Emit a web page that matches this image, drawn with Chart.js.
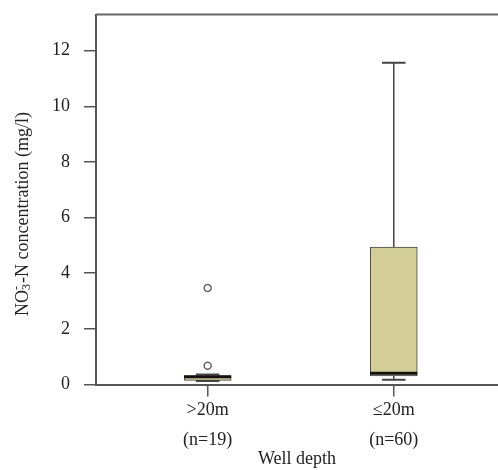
<!DOCTYPE html>
<html>
<head>
<meta charset="utf-8">
<script src="https://cdn.jsdelivr.net/npm/chart.js@4.4.1/dist/chart.umd.min.js"></script>
<style>
  html, body { margin: 0; padding: 0; background: #fff; }
  #wrap { width: 498px; height: 470px; }
</style>
</head>
<body>
<div id="wrap"><canvas id="chart"></canvas></div>
<script>
// Nitrate box plot by well depth
const groups = ['>20m', '≤20m'];
const groupCounts = ['(n=19)', '(n=60)'];
const groupX = [1, 2];
const lowWhisker = [0.13, 0.17];
const q1 = [0.15, 0.31];
const median = [0.28, 0.40];
const q3 = [0.31, 4.94];
const highWhisker = [0.36, 11.57];
const outlierX = [1, 1];
const outlierY = [3.47, 0.67];
const yTicks = [0, 2, 4, 6, 8, 10, 12];

const serif = "'Liberation Serif', 'Times New Roman', serif";
const textColor = '#222';
const axisColor = '#555';
const BOX_WIDTH = 47;

Chart.defaults.font.family = serif;

// Whiskers, medians, top frame line and the y title with sub/superscript
const boxPlotExtras = {
  id: 'boxPlotExtras',
  beforeDatasetsDraw(chart) {
    const { ctx, chartArea, scales: { x, y } } = chart;
    ctx.save();
    ctx.strokeStyle = '#666';
    ctx.lineWidth = 2;
    ctx.beginPath();
    ctx.moveTo(chartArea.left, chartArea.top);
    ctx.lineTo(chartArea.right, chartArea.top);
    ctx.stroke();

    ctx.strokeStyle = '#444';
    groupX.forEach((gx, i) => {
      const px = x.getPixelForValue(gx);
      const capHalf = BOX_WIDTH / 4;
      ctx.lineWidth = 1.5;
      ctx.beginPath();
      ctx.moveTo(px, y.getPixelForValue(q3[i]));
      ctx.lineTo(px, y.getPixelForValue(highWhisker[i]));
      ctx.moveTo(px, y.getPixelForValue(q1[i]));
      ctx.lineTo(px, y.getPixelForValue(lowWhisker[i]));
      ctx.stroke();
      ctx.lineWidth = 2;
      ctx.beginPath();
      ctx.moveTo(px - capHalf, y.getPixelForValue(highWhisker[i]));
      ctx.lineTo(px + capHalf, y.getPixelForValue(highWhisker[i]));
      ctx.moveTo(px - capHalf, y.getPixelForValue(lowWhisker[i]));
      ctx.lineTo(px + capHalf, y.getPixelForValue(lowWhisker[i]));
      ctx.stroke();
    });
    ctx.restore();
  },
  afterDatasetsDraw(chart) {
    const { ctx, scales: { x, y } } = chart;
    ctx.save();
    ctx.strokeStyle = '#111';
    ctx.lineWidth = 3;
    groupX.forEach((gx, i) => {
      const px = x.getPixelForValue(gx);
      const py = y.getPixelForValue(median[i]);
      ctx.beginPath();
      ctx.moveTo(px - BOX_WIDTH / 2, py);
      ctx.lineTo(px + BOX_WIDTH / 2, py);
      ctx.stroke();
    });
    ctx.restore();
  },
  afterDraw(chart) {
    const { ctx } = chart;
    const big = '18px ' + serif;
    const small = '12px ' + serif;
    ctx.save();
    ctx.translate(23, 214);
    ctx.rotate(-Math.PI / 2);
    ctx.fillStyle = textColor;
    ctx.textBaseline = 'middle';
    ctx.textAlign = 'left';
    ctx.font = big;
    const wNO = ctx.measureText('NO').width;
    const wRest = ctx.measureText('-N concentration (mg/l)').width;
    ctx.font = small;
    const wScript = Math.max(ctx.measureText('3').width, ctx.measureText('-').width) + 1;
    let cx = -(wNO + wScript + wRest) / 2;
    ctx.font = big;
    ctx.fillText('NO', cx, 0);
    cx += wNO;
    ctx.font = small;
    ctx.fillText('3', cx, 4);
    ctx.fillText('-', cx, -6);
    cx += wScript;
    ctx.font = big;
    ctx.fillText('-N concentration (mg/l)', cx, 0);
    ctx.restore();
  }
};

new Chart(document.getElementById('chart'), {
  type: 'bar',
  data: {
    datasets: [
      {
        type: 'bar',
        data: groupX.map((gx, i) => ({ x: gx, y: [q1[i], q3[i]] })),
        backgroundColor: '#d3cd96',
        borderColor: '#444',
        borderWidth: 1,
        borderSkipped: false,
        barThickness: BOX_WIDTH
      },
      {
        type: 'scatter',
        data: outlierX.map((ox, i) => ({ x: ox, y: outlierY[i] })),
        pointRadius: 3.5,
        pointBackgroundColor: '#fff',
        pointBorderColor: '#666',
        pointBorderWidth: 1.5
      }
    ]
  },
  options: {
    responsive: true,
    maintainAspectRatio: false,
    animation: false,
    layout: { autoPadding: false, padding: { top: 14.5, right: 0, bottom: 0, left: 0 } },
    plugins: {
      legend: { display: false },
      tooltip: { enabled: false }
    },
    scales: {
      x: {
        type: 'linear',
        min: 0.4,
        max: 2.56,
        offset: false,
        afterBuildTicks: s => { s.ticks = groupX.map(v => ({ value: v })); },
        afterFit: s => { s.height = 85.5; s.paddingLeft = 0; s.paddingRight = 0; },
        ticks: {
          autoSkip: false,
          maxRotation: 0,
          padding: -2,
          color: textColor,
          font: { size: 18, lineHeight: 1.7 },
          callback: v => {
            const i = groupX.indexOf(v);
            return i < 0 ? '' : [groups[i], groupCounts[i]];
          }
        },
        grid: { offset: false, drawOnChartArea: false, drawTicks: true, tickLength: 12, color: axisColor, lineWidth: 1.5 },
        border: { color: axisColor, width: 2 },
        title: { display: true, text: 'Well depth', color: textColor, font: { size: 18 }, padding: 0 }
      },
      y: {
        min: 0,
        max: 13.3,
        afterBuildTicks: s => { s.ticks = yTicks.map(v => ({ value: v })); },
        afterFit: s => { s.width = 96; s.paddingTop = 0; s.paddingBottom = 0; },
        ticks: { padding: 14, color: textColor, font: { size: 18 } },
        grid: { drawOnChartArea: false, drawTicks: true, tickLength: 12, color: axisColor, lineWidth: 1.5 },
        border: { color: axisColor, width: 2 }
      }
    }
  },
  plugins: [boxPlotExtras]
});
</script>
</body>
</html>
